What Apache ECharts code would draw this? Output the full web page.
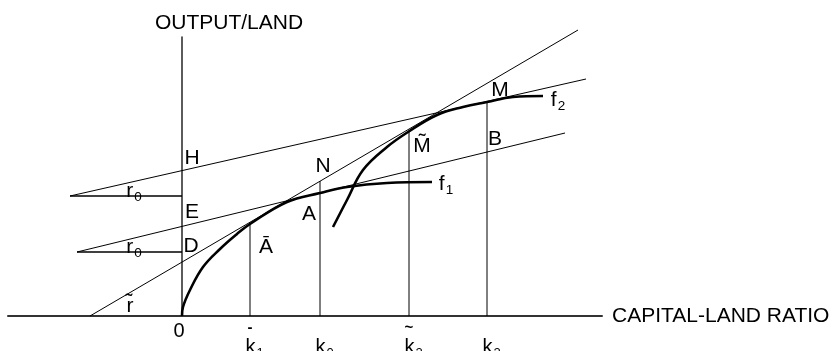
<!DOCTYPE html>
<html>
<head>
<meta charset="utf-8">
<script src="https://cdn.jsdelivr.net/npm/echarts@6/dist/echarts.min.js"></script>
<style>
    html, body { margin: 0; padding: 0; background: #fff; }
    #chart { width: 836px; height: 351px; }
</style>
</head>
<body>
<div id="chart"></div>
<script>
    // production functions: [capital/land, output/land]
    var f1Data = [[0,0],[1,9],[8,26],[21,49],[38,67],[55,82],[68,92],[105,114],[138,123],[165,129],[205,133],[250,134]];
    var f2Data = [[151,89],[165,116],[181,146],[205,169],[226,184],[255,201],[281,209],[305,214],[331,219],[361,220]];

    // straight lines (rate-of-return lines)
    var rTildeLine = [[-92,0],[396,286]];
    var r0UpperLine = [[-112,120],[404,237]];
    var r0LowerLine = [[-105,64],[383,183]];
    var r0UpperFlat = [[-112,120],[0,120]];
    var r0LowerFlat = [[-105,64],[0,64]];

    // capital-land ratios and the height of the vertical drop lines
    var kValues = [68,138,227,305];
    var kTops = [92,135,185,214];

    // x tick labels
    var xTickValues = [0,68,138,227,305];
    var xTickBase = ['0','k','k','k','k'];
    var xTickSub = ['','1','0','2','2'];
    var xTickAccent = ['','-','','~',''];

    // point labels: text, subscript, x, y
    var annotations = [
        ['H','',10,158],
        ['N','',141,150],
        ['E','',10,104],
        ['A','',127,102],
        ['D','',9,70],
        ['\u0100','',84,69],
        ['r','0',-48,125],
        ['r','0',-48,69],
        ['r\u0303','',-52,10],
        ['M\u0303','',240,170],
        ['B','',313,177],
        ['M','',318,226],
        ['f','1',264,132],
        ['f','2',376,216]
    ];

    var FONT = 'Liberation Sans, Arial, Helvetica, sans-serif';

    function lineSeries(data, width, smooth) {
        return {
            type: 'line',
            data: data,
            symbol: 'none',
            smooth: smooth || false,
            clip: false,
            silent: true,
            lineStyle: { color: '#000', width: width }
        };
    }

    var series = [];
    series.push(lineSeries(rTildeLine, 1));
    series.push(lineSeries(r0UpperLine, 1));
    series.push(lineSeries(r0LowerLine, 1));
    series.push(lineSeries(r0UpperFlat, 1.3));
    series.push(lineSeries(r0LowerFlat, 1.3));
    for (var i = 0; i < kValues.length; i++) {
        series.push(lineSeries([[kValues[i], 0], [kValues[i], kTops[i]]], 1));
    }
    series.push(lineSeries(f1Data, 2.6, 0.4));
    series.push(lineSeries(f2Data, 2.6, 0.4));

    series.push({
        type: 'scatter',
        symbolSize: 0,
        silent: true,
        clip: false,
        itemStyle: { opacity: 1 },
        data: annotations.map(function (a) {
            return {
                value: [a[2], a[3]],
                label: {
                    formatter: a[1] ? '{m|' + a[0] + '}{s|' + a[1] + '}' : '{m|' + a[0] + '}'
                }
            };
        }),
        label: {
            show: true,
            position: 'inside',
            color: '#000',
            opacity: 1,
            textBorderWidth: 0,
            fontFamily: FONT,
            fontSize: 21,
            rich: {
                m: { fontSize: 21, fontFamily: FONT, color: '#000' },
                s: { fontSize: 13.5, fontFamily: FONT, color: '#000', padding: [12, 0, 0, 1] }
            }
        }
    });

    var chart = echarts.init(document.getElementById('chart'), null, { renderer: 'canvas' });
    chart.setOption({
        animation: false,
        backgroundColor: '#fff',
        grid: { left: 8, top: 37, width: 594, height: 279, outerBoundsMode: 'none', containLabel: false },
        xAxis: {
            type: 'value',
            min: -174,
            max: 420,
            name: 'CAPITAL-LAND RATIO',
            nameLocation: 'end',
            nameGap: 10,
            nameTextStyle: { fontSize: 21, color: '#000', fontFamily: FONT },
            axisLine: { show: true, onZero: true, lineStyle: { color: '#333', width: 2 } },
            axisTick: { show: false },
            splitLine: { show: false },
            axisLabel: {
                show: true,
                margin: 5,
                customValues: xTickValues,
                color: '#000',
                fontFamily: FONT,
                formatter: function (v) {
                    var i = xTickValues.indexOf(v);
                    if (i < 0) return '';
                    if (!xTickSub[i]) return '{num|' + xTickBase[i] + '}';
                    var acc = xTickAccent[i] ? xTickAccent[i] : ' ';
                    return '{acc|' + acc + '}\n{k|' + xTickBase[i] + '}{sub|' + xTickSub[i] + '}';
                },
                rich: {
                    num: { fontSize: 20, lineHeight: 20, padding: [0, 6, 0, 0], fontFamily: FONT, color: '#000' },
                    acc: { fontSize: 15, lineHeight: 14, fontWeight: 'bold', fontFamily: FONT, color: '#000' },
                    k: { fontSize: 20, lineHeight: 20, padding: [0, 0, 0, 9], fontFamily: FONT, color: '#000' },
                    sub: { fontSize: 13, padding: [12, 0, 0, 1], fontFamily: FONT, color: '#000' }
                }
            }
        },
        yAxis: {
            type: 'value',
            min: 0,
            max: 279,
            name: 'OUTPUT/LAND',
            nameLocation: 'end',
            nameGap: 3,
            nameTextStyle: { fontSize: 21, color: '#000', fontFamily: FONT, align: 'center', padding: [0, 0, 0, 94] },
            axisLine: { show: true, onZero: true, lineStyle: { color: '#333', width: 1.6 } },
            axisTick: { show: false },
            axisLabel: { show: false },
            splitLine: { show: false }
        },
        series: series
    });
</script>
</body>
</html>
